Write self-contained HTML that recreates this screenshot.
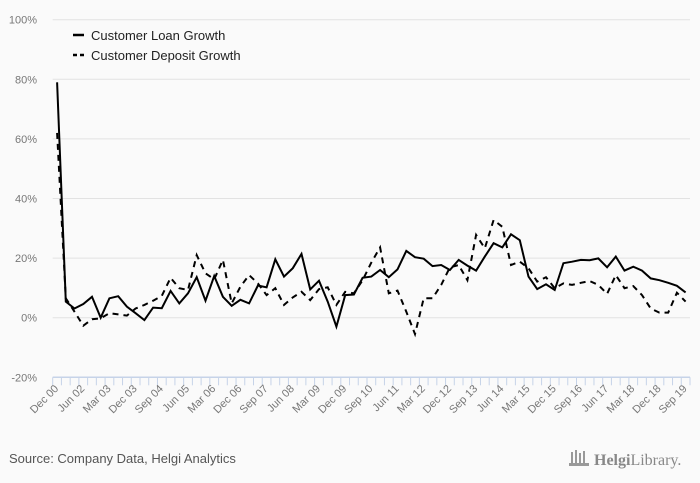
<!DOCTYPE html>
<html><head><meta charset="utf-8"><style>
html,body{margin:0;padding:0;background:#fafafa;}
svg{display:block;font-family:"Liberation Sans",sans-serif;}
</style></head><body>
<svg id="chart" width="700" height="483" viewBox="0 0 700 483">
<rect x="0" y="0" width="700" height="483" fill="#fafafa"/>
<g id="grid"></g><g id="xaxis"></g><g id="series"></g>
<g>
<g><line x1="73" y1="35" x2="84" y2="35" stroke="#000" stroke-width="2.5"/><text x="91" y="40" font-size="13" fill="#222">Customer Loan Growth</text></g>
<g><line x1="73" y1="55" x2="84" y2="55" stroke="#000" stroke-width="2.5" stroke-dasharray="4,3"/><text x="91" y="60" font-size="13" fill="#222">Customer Deposit Growth</text></g>
</g>
<text x="9" y="463" font-size="13" fill="#555">Source: Company Data, Helgi Analytics</text>
<g>
<g fill="#999"><rect x="571" y="452" width="2" height="12"/><rect x="575" y="450" width="2" height="14"/><rect x="579" y="453" width="2" height="11"/><rect x="583" y="451" width="2" height="13"/><rect x="569" y="463" width="20" height="3"/></g>
<text x="594" y="465" font-size="16" fill="#888" font-family="Liberation Serif,serif"><tspan font-weight="bold">Helgi</tspan>Library.</text>
</g>
</svg>
<script>
var categories=["Dec 00","Dec 01","Mar 02","Jun 02","Sep 02","Dec 02","Mar 03","Jun 03","Sep 03","Dec 03","Mar 04","Jun 04","Sep 04","Dec 04","Mar 05","Jun 05","Sep 05","Dec 05","Mar 06","Jun 06","Sep 06","Dec 06","Mar 07","Jun 07","Sep 07","Dec 07","Mar 08","Jun 08","Sep 08","Dec 08","Mar 09","Jun 09","Sep 09","Dec 09","Mar 10","Jun 10","Sep 10","Dec 10","Mar 11","Jun 11","Sep 11","Dec 11","Mar 12","Jun 12","Sep 12","Dec 12","Mar 13","Jun 13","Sep 13","Dec 13","Mar 14","Jun 14","Sep 14","Dec 14","Mar 15","Jun 15","Sep 15","Dec 15","Mar 16","Jun 16","Sep 16","Dec 16","Mar 17","Jun 17","Sep 17","Dec 17","Mar 18","Jun 18","Sep 18","Dec 18","Mar 19","Jun 19","Sep 19"];
var loanGrowth=[79,5.4,3.1,4.6,7,0,6.5,7.2,3.7,1.5,-0.8,3.4,3.2,9,4.8,8.2,13.6,5.7,14,7,4,6,4.8,10.8,10.2,19.6,13.8,16.6,21.4,9.5,12.4,5.4,-3,7.6,7.8,13.4,13.8,16,13.6,16.2,22.4,20.3,19.8,17.3,17.7,16,19.4,17.5,15.8,20.5,25,23.6,28,26,13.8,9.6,11.2,9.3,18.3,18.8,19.4,19.3,19.9,16.9,20.5,15.8,17.1,15.8,13.2,12.6,11.7,10.7,8.5];
var depositGrowth=[62,6.5,2,-2.7,-0.5,-0.2,1.5,1.1,0.7,3.1,4.3,5.7,7.3,13.4,9.9,9.3,21,14.9,12.9,19.4,4.8,10.4,14.3,11.5,7.6,9.9,4.3,6.8,8.7,5.9,9.6,10.2,4.3,8.7,8.2,12.6,18.5,23.6,8.2,9.1,2,-5.5,6.5,6.5,11,16.9,17.7,12.6,27.8,23.3,32.8,30.5,17.7,18.8,16.6,12.1,13.6,9.9,11.5,11,11.7,12.3,11,8,14.3,9.9,10.6,7.6,3.1,1.7,1.7,8.4,5.4];
var yTicks=[-20,0,20,40,60,80,100];
var xLabels=["Dec 00","Jun 02","Mar 03","Dec 03","Sep 04","Jun 05","Mar 06","Dec 06","Sep 07","Jun 08","Mar 09","Dec 09","Sep 10","Jun 11","Mar 12","Dec 12","Sep 13","Jun 14","Mar 15","Dec 15","Sep 16","Jun 17","Mar 18","Dec 18","Sep 19"];
var NS="http://www.w3.org/2000/svg";
var X0=52.7,X1=690,Y0=317.7,PX=2.98;
var step=(X1-X0)/categories.length;
function xs(i){return X0+step*(i+0.5);}
function ys(v){return Y0-v*PX;}
function mk(t,a,p){var e=document.createElementNS(NS,t);for(var k in a)e.setAttribute(k,a[k]);p.appendChild(e);return e;}
var grid=document.getElementById('grid');
yTicks.forEach(function(v){
 var y=ys(v);
 if(v!==-20){var l=mk('line',{x1:X0,x2:X1,y1:y,y2:y,stroke:'#e2e2e2','stroke-width':1},grid);
 
 }
 var t=mk('text',{x:37,y:y+4,'text-anchor':'end','font-size':11,fill:'#777'},grid);
 t.textContent=v+'%';
 
 
});
var xa=document.getElementById('xaxis');
var yb=ys(-20);
var al=mk('line',{x1:X0,x2:X1,y1:yb,y2:yb,stroke:'#c6d3e8','stroke-width':1.5},xa);


for(var i=0;i<=categories.length;i++){
 var tx=X0+step*i;
 var tk=mk('line',{x1:tx,x2:tx,y1:yb,y2:yb+8,stroke:'#c6d3e8','stroke-width':1},xa);
 
 
}
xLabels.forEach(function(lb){
 var i=categories.indexOf(lb);var x=xs(i)+2,y=yb+12;
 var t=mk('text',{x:x,y:y,'text-anchor':'end','font-size':11,fill:'#777',transform:'rotate(-45 '+x+' '+y+')'},xa);
 t.textContent=lb;
 
 
});
var sg=document.getElementById('series');
function line(arr,dash,name){
 var d=arr.map(function(v,i){return (i?'L':'M')+xs(i).toFixed(1)+','+ys(v).toFixed(1);}).join('');
 var p=mk('path',{d:d,fill:'none',stroke:'#000','stroke-width':2,'stroke-linejoin':'miter'},sg);
 if(dash)p.setAttribute('stroke-dasharray',dash);
 
 
}
line(depositGrowth,'6,5','deposit-growth-line');
line(loanGrowth,null,'loan-growth-line');
</script>
</body></html>
